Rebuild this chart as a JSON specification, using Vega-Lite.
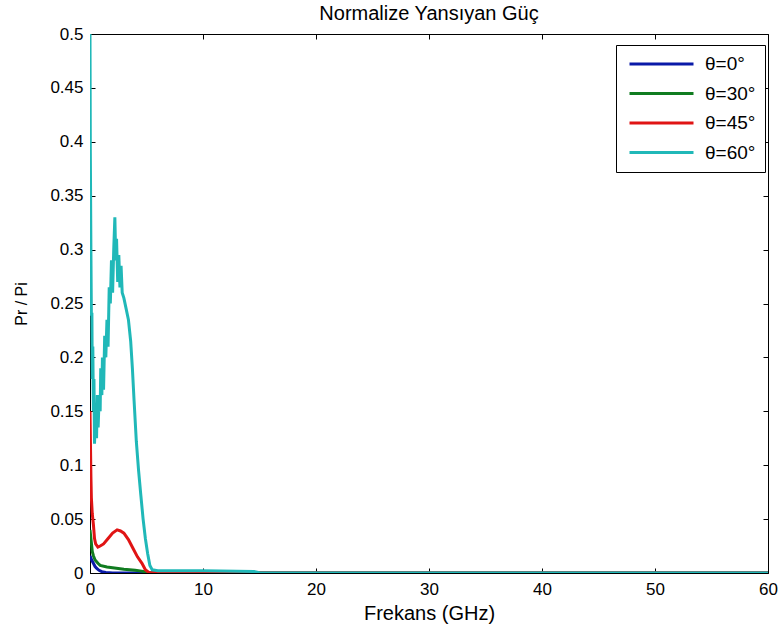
{
  "$schema": "https://vega.github.io/schema/vega-lite/v6.json",
  "width": 678,
  "height": 539,
  "autosize": "none",
  "padding": {"left": 90, "top": 34, "right": 12, "bottom": 64},
  "background": "white",
  "title": {"text": "Normalize Yansıyan Güç", "fontSize": 20, "fontWeight": "normal", "font": "Liberation Sans", "color": "#000000", "offset": 1},
  "config": {
    "font": "Liberation Sans",
    "view": {"stroke": "#000000", "strokeWidth": 1},
    "axis": {"grid": false, "domain": false, "tickColor": "#000000", "tickSize": 5, "tickWidth": 1, "offset": -5, "labelFontSize": 17, "labelColor": "#000000", "titleFontSize": 20, "titleFontWeight": "normal", "titleColor": "#000000", "labelFont": "Liberation Sans", "titleFont": "Liberation Sans"}
  },
  "data": {"values": [
    {"f": 0, "v": 0.016, "s": "θ=0°"}, {"f": 0.15, "v": 0.012, "s": "θ=0°"}, {"f": 0.3, "v": 0.009, "s": "θ=0°"}, {"f": 0.45, "v": 0.006, "s": "θ=0°"}, {"f": 0.6, "v": 0.0042, "s": "θ=0°"}, {"f": 0.8, "v": 0.0025, "s": "θ=0°"}, {"f": 1.05, "v": 0.0012, "s": "θ=0°"}, {"f": 1.4, "v": 0.0004, "s": "θ=0°"}, {"f": 2, "v": 0, "s": "θ=0°"}, {"f": 60, "v": 0, "s": "θ=0°"},
    {"f": 0, "v": 0.04, "s": "θ=30°"}, {"f": 0.1, "v": 0.03, "s": "θ=30°"}, {"f": 0.2, "v": 0.02, "s": "θ=30°"}, {"f": 0.3, "v": 0.016, "s": "θ=30°"}, {"f": 0.45, "v": 0.012, "s": "θ=30°"}, {"f": 0.7, "v": 0.009, "s": "θ=30°"}, {"f": 0.9, "v": 0.007, "s": "θ=30°"}, {"f": 1.5, "v": 0.0055, "s": "θ=30°"}, {"f": 2, "v": 0.0048, "s": "θ=30°"}, {"f": 3, "v": 0.0035, "s": "θ=30°"}, {"f": 4, "v": 0.0025, "s": "θ=30°"}, {"f": 4.7, "v": 0.0015, "s": "θ=30°"}, {"f": 5.2, "v": 0.0003, "s": "θ=30°"}, {"f": 5.5, "v": 0, "s": "θ=30°"}, {"f": 60, "v": 0, "s": "θ=30°"},
    {"f": 0, "v": 0.15, "s": "θ=45°"}, {"f": 0.04, "v": 0.12, "s": "θ=45°"}, {"f": 0.08, "v": 0.09, "s": "θ=45°"}, {"f": 0.12, "v": 0.07, "s": "θ=45°"}, {"f": 0.2, "v": 0.055, "s": "θ=45°"}, {"f": 0.3, "v": 0.045, "s": "θ=45°"}, {"f": 0.4, "v": 0.032, "s": "θ=45°"}, {"f": 0.5, "v": 0.027, "s": "θ=45°"}, {"f": 0.7, "v": 0.024, "s": "θ=45°"}, {"f": 0.9, "v": 0.025, "s": "θ=45°"}, {"f": 1.2, "v": 0.027, "s": "θ=45°"}, {"f": 1.6, "v": 0.032, "s": "θ=45°"}, {"f": 2.0, "v": 0.037, "s": "θ=45°"}, {"f": 2.4, "v": 0.04, "s": "θ=45°"}, {"f": 2.7, "v": 0.039, "s": "θ=45°"}, {"f": 3.0, "v": 0.037, "s": "θ=45°"}, {"f": 3.4, "v": 0.031, "s": "θ=45°"}, {"f": 3.8, "v": 0.023, "s": "θ=45°"}, {"f": 4.2, "v": 0.015, "s": "θ=45°"}, {"f": 4.6, "v": 0.009, "s": "θ=45°"}, {"f": 4.9, "v": 0.003, "s": "θ=45°"}, {"f": 5.2, "v": 0.0005, "s": "θ=45°"}, {"f": 5.5, "v": 0, "s": "θ=45°"}, {"f": 60, "v": 0, "s": "θ=45°"},
    {"f": 0, "v": 0.5, "s": "θ=60°"}, {"f": 0.03, "v": 0.39, "s": "θ=60°"}, {"f": 0.08, "v": 0.30, "s": "θ=60°"}, {"f": 0.12, "v": 0.24, "s": "θ=60°"}, {"f": 0.17, "v": 0.24, "s": "θ=60°"}, {"f": 0.2, "v": 0.18, "s": "θ=60°"}, {"f": 0.25, "v": 0.21, "s": "θ=60°"}, {"f": 0.3, "v": 0.15, "s": "θ=60°"}, {"f": 0.35, "v": 0.18, "s": "θ=60°"}, {"f": 0.4, "v": 0.12, "s": "θ=60°"}, {"f": 0.5, "v": 0.155, "s": "θ=60°"}, {"f": 0.58, "v": 0.125, "s": "θ=60°"}, {"f": 0.65, "v": 0.165, "s": "θ=60°"}, {"f": 0.72, "v": 0.135, "s": "θ=60°"}, {"f": 0.8, "v": 0.16, "s": "θ=60°"}, {"f": 0.9, "v": 0.15, "s": "θ=60°"}, {"f": 0.95, "v": 0.19, "s": "θ=60°"}, {"f": 1.05, "v": 0.165, "s": "θ=60°"}, {"f": 1.1, "v": 0.2, "s": "θ=60°"}, {"f": 1.2, "v": 0.17, "s": "θ=60°"}, {"f": 1.3, "v": 0.22, "s": "θ=60°"}, {"f": 1.4, "v": 0.2, "s": "θ=60°"}, {"f": 1.5, "v": 0.235, "s": "θ=60°"}, {"f": 1.6, "v": 0.21, "s": "θ=60°"}, {"f": 1.7, "v": 0.265, "s": "θ=60°"}, {"f": 1.8, "v": 0.25, "s": "θ=60°"}, {"f": 1.9, "v": 0.29, "s": "θ=60°"}, {"f": 2.0, "v": 0.26, "s": "θ=60°"}, {"f": 2.1, "v": 0.3, "s": "θ=60°"}, {"f": 2.2, "v": 0.33, "s": "θ=60°"}, {"f": 2.28, "v": 0.29, "s": "θ=60°"}, {"f": 2.35, "v": 0.31, "s": "θ=60°"}, {"f": 2.45, "v": 0.27, "s": "θ=60°"}, {"f": 2.55, "v": 0.295, "s": "θ=60°"}, {"f": 2.65, "v": 0.265, "s": "θ=60°"}, {"f": 2.75, "v": 0.285, "s": "θ=60°"}, {"f": 2.85, "v": 0.26, "s": "θ=60°"}, {"f": 3.0, "v": 0.255, "s": "θ=60°"}, {"f": 3.2, "v": 0.245, "s": "θ=60°"}, {"f": 3.4, "v": 0.235, "s": "θ=60°"}, {"f": 3.6, "v": 0.215, "s": "θ=60°"}, {"f": 3.75, "v": 0.19, "s": "θ=60°"}, {"f": 3.9, "v": 0.16, "s": "θ=60°"}, {"f": 4.1, "v": 0.122, "s": "θ=60°"}, {"f": 4.3, "v": 0.095, "s": "θ=60°"}, {"f": 4.5, "v": 0.072, "s": "θ=60°"}, {"f": 4.7, "v": 0.05, "s": "θ=60°"}, {"f": 4.9, "v": 0.032, "s": "θ=60°"}, {"f": 5.1, "v": 0.018, "s": "θ=60°"}, {"f": 5.3, "v": 0.007, "s": "θ=60°"}, {"f": 5.5, "v": 0.003, "s": "θ=60°"}, {"f": 6, "v": 0.002, "s": "θ=60°"}, {"f": 10, "v": 0.002, "s": "θ=60°"}, {"f": 14.5, "v": 0.0015, "s": "θ=60°"}, {"f": 15, "v": 0.0002, "s": "θ=60°"}, {"f": 60, "v": 0, "s": "θ=60°"}
  ]},
  "layer": [
    {
      "mark": {"type": "line", "strokeWidth": 3, "clip": true, "interpolate": "linear"},
      "encoding": {
        "x": {"field": "f", "type": "quantitative", "scale": {"domain": [0, 60], "nice": false, "zero": false},
              "axis": {"orient": "bottom", "title": "Frekans (GHz)", "values": [0, 10, 20, 30, 40, 50, 60], "labelPadding": 8, "titlePadding": 6, "labelFlush": false}},
        "y": {"field": "v", "type": "quantitative", "scale": {"domain": [0, 0.5], "nice": false},
              "axis": {"orient": "left", "title": "Pr / Pi", "titleFontSize": 16, "values": [0, 0.05, 0.1, 0.15, 0.2, 0.25, 0.3, 0.35, 0.4, 0.45, 0.5], "format": ".2~f", "labelPadding": 7, "titlePadding": 20, "labelFlush": false}},
        "color": {"field": "s", "type": "nominal",
                  "scale": {"domain": ["θ=0°", "θ=30°", "θ=45°", "θ=60°"], "range": ["#0a1aa8", "#107c20", "#e01414", "#20b8b8"]},
                  "legend": {"title": null, "orient": "none", "legendX": 526, "legendY": 11, "symbolType": "stroke", "symbolSize": 4096, "symbolStrokeWidth": 3, "symbolOffset": 3, "clipHeight": 20,
                             "labelFontSize": 19, "labelFont": "Liberation Sans", "labelColor": "#000000", "strokeColor": "#000000", "fillColor": "white", "padding": 9, "rowPadding": 9.5, "labelOffset": 10}}
      }
    },
    {
      "mark": {"type": "point", "opacity": 0},
      "encoding": {
        "x": {"field": "f", "type": "quantitative", "axis": {"orient": "top", "title": null, "labels": false, "values": [0, 10, 20, 30, 40, 50, 60]}},
        "y": {"field": "v", "type": "quantitative", "axis": {"orient": "right", "title": null, "labels": false, "values": [0, 0.05, 0.1, 0.15, 0.2, 0.25, 0.3, 0.35, 0.4, 0.45, 0.5]}}
      }
    }
  ],
  "resolve": {"axis": {"x": "independent", "y": "independent"}}
}
